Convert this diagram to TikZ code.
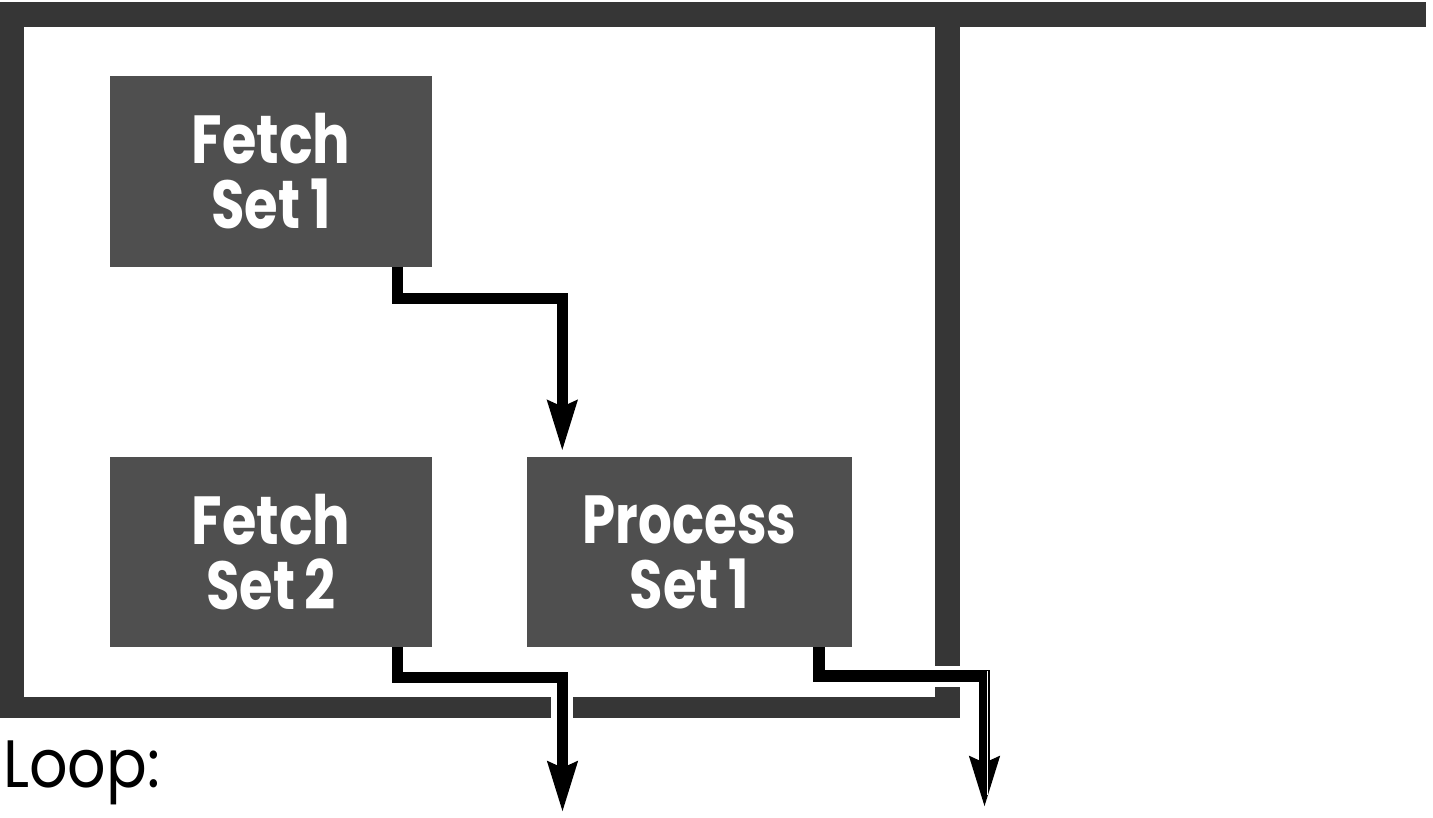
\documentclass[tikz,border=0pt]{standalone}
\usepackage{fontspec}
\setmainfont{Poppins}
\usetikzlibrary{arrows.meta}
\definecolor{boxgray}{gray}{0.31}
\definecolor{framegray}{gray}{0.21}
\newcommand{\boxline}[2]{\scalebox{#1}[1]{\bfseries\fontsize{68}{65}\selectfont #2}}
\begin{document}
\begin{tikzpicture}[x=1pt,y=-1pt,
  stepbox/.style={fill=boxgray, draw=none, inner sep=0pt, minimum width=322pt, minimum height=191pt,
    text=white, align=center, font=\bfseries\fontsize{68}{65}\selectfont},
  bar/.style={fill=framegray},
  conn/.style={draw=black, line width=11.5pt, line join=miter,
    -{Stealth[length=50pt,width=28pt,inset=5pt]}},
  seam/.style={draw=white, line width=1pt}]
\useasboundingbox (0,0) rectangle (1433,817);
% frame
\fill[bar] (0,2) rectangle (1426,27);
\fill[bar] (0,2) rectangle (24,718);
\fill[bar] (0,697) rectangle (551,718);
\fill[bar] (573,697) rectangle (960,718);
\fill[bar] (935,2) rectangle (960,666);
\fill[bar] (935,687) rectangle (960,718);
% boxes
\node[stepbox] (f1) at (271,171) {\boxline{0.82}{Fetch}\\\boxline{0.8}{Set\hspace{0.18em}1}};
\node[stepbox, minimum height=190pt] (f2) at (271,552) {\boxline{0.82}{Fetch}\\\boxline{0.8}{Set\hspace{0.18em}2}};
\node[stepbox, minimum width=325pt, minimum height=190pt] (p1) at (689.5,552) {\boxline{0.78}{Process}\\\boxline{0.8}{Set\hspace{0.18em}1}};
% label
\node[anchor=base west, inner sep=0pt] (loop) at (3,787) {\scalebox{0.9}[1]{\fontsize{67}{67}\selectfont Loop:}};
% free ends
\coordinate (out1) at (562.5,813);
\coordinate (out2) at (984.5,808);
% connectors
\draw[conn, shorten >=5pt] ([xshift=-34.5pt]f1.south east) -- ++(0,32) -| ([xshift=35.5pt]p1.north west);
\draw[conn] ([xshift=-34.5pt]f2.south east) -- ++(0,30.5) -| (out1);
\draw[conn] ([xshift=-33pt]p1.south east) -- ++(0,29) -| (out2);
\draw[seam] (987.5,671) -- (987.5,795);
\end{tikzpicture}
\end{document}
